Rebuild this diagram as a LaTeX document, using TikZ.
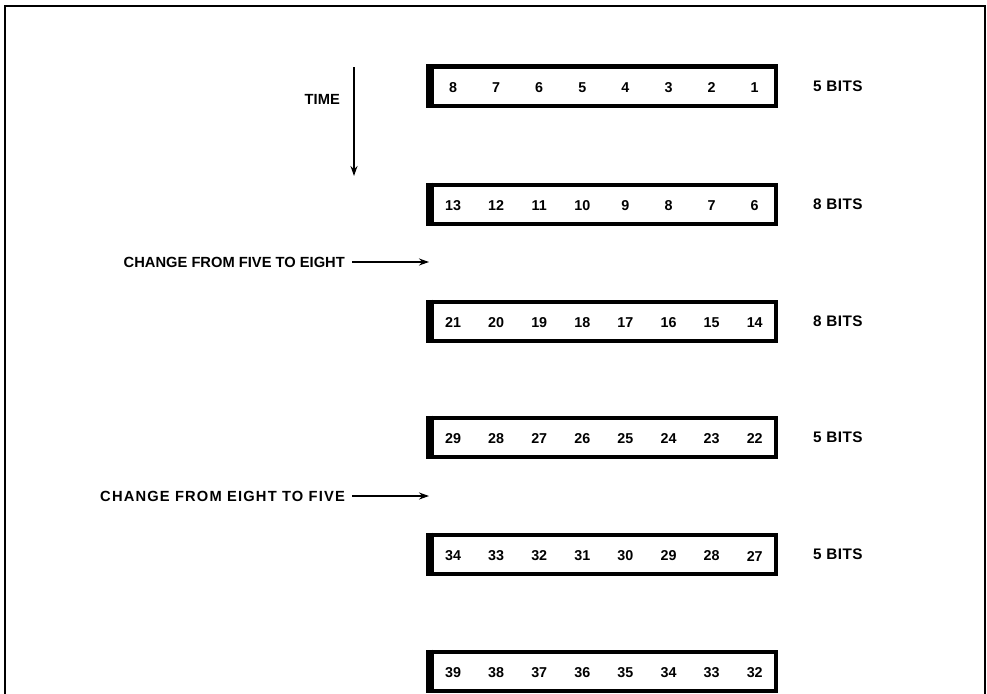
\documentclass[tikz,border=0pt]{standalone}
\usepackage{fontspec}
\setmainfont{Liberation Sans}
\newfontfamily\bitsfont[LetterSpace=3]{Liberation Sans}
\newfontfamily\widefont[LetterSpace=8]{Liberation Sans}
\usetikzlibrary{arrows.meta}
\begin{document}
\begin{tikzpicture}[x=1pt,y=-1pt,
  lbl/.style={font=\bfseries\fontsize{14.7}{17}\selectfont, inner sep=0pt},
  widelbl/.style={font=\widefont\bfseries\fontsize{14.7}{17}\selectfont, inner sep=0pt},
  bits/.style={font=\bitsfont\bfseries\fontsize{15.3}{17}\selectfont, inner sep=0pt},
  num/.style={font=\bfseries\fontsize{14.3}{16}\selectfont, inner sep=0pt},
  reg/.style={draw, line width=4pt, minimum width=344pt, minimum height=39pt, inner sep=0pt},
  arr/.style={line width=2.8pt, -{Stealth[length=10pt,width=7pt]}}]
\useasboundingbox (0,0) rectangle (987,693);
\draw[line width=1.5pt] (5,700) -- (5,6) -- (985,6) -- (985,700);
\foreach \r/\y/\lst in {1/86/{8,7,6,5,4,3,2,1},2/204/{13,12,11,10,9,8,7,6},3/321/{21,20,19,18,17,16,15,14},4/437/{29,28,27,26,25,24,23,22},5/554/{34,33,32,31,30,29,28,27},6/671/{39,38,37,36,35,34,33,32}}{
  \node[reg] (r\r) at (604,\y) {};
  \draw[line width=7pt] ([xshift=-1pt]r\r.north west) -- ([xshift=-1pt]r\r.south west);
  \foreach \v [count=\i] in \lst {
    \node[num] (n\r-\i) at ({453+43.1*(\i-1)},\y+2) {\v};
  }
}
\foreach \r/\t/\y in {1/5/86,2/8/204,3/8/321,4/5/437,5/5/554}{
  \node[bits, anchor=west] (b\r) at (813,\y) {\t\ BITS};
}
\node[lbl, anchor=east] (time) at (340,99) {TIME};
\coordinate (t0) at (354,67);
\coordinate (t1) at (354,176);
\draw[arr] (t0) -- (t1);
\node[lbl, anchor=east] (c1) at (345,262) {CHANGE FROM FIVE TO EIGHT};
\coordinate (c1tip) at (429,262);
\draw[arr] ([xshift=7pt]c1.east) -- (c1tip);
\node[widelbl, anchor=east] (c2) at (345,496) {CHANGE FROM EIGHT TO FIVE};
\coordinate (c2tip) at (429,496);
\draw[arr] ([xshift=7pt]c2.east) -- (c2tip);
\end{tikzpicture}
\end{document}
